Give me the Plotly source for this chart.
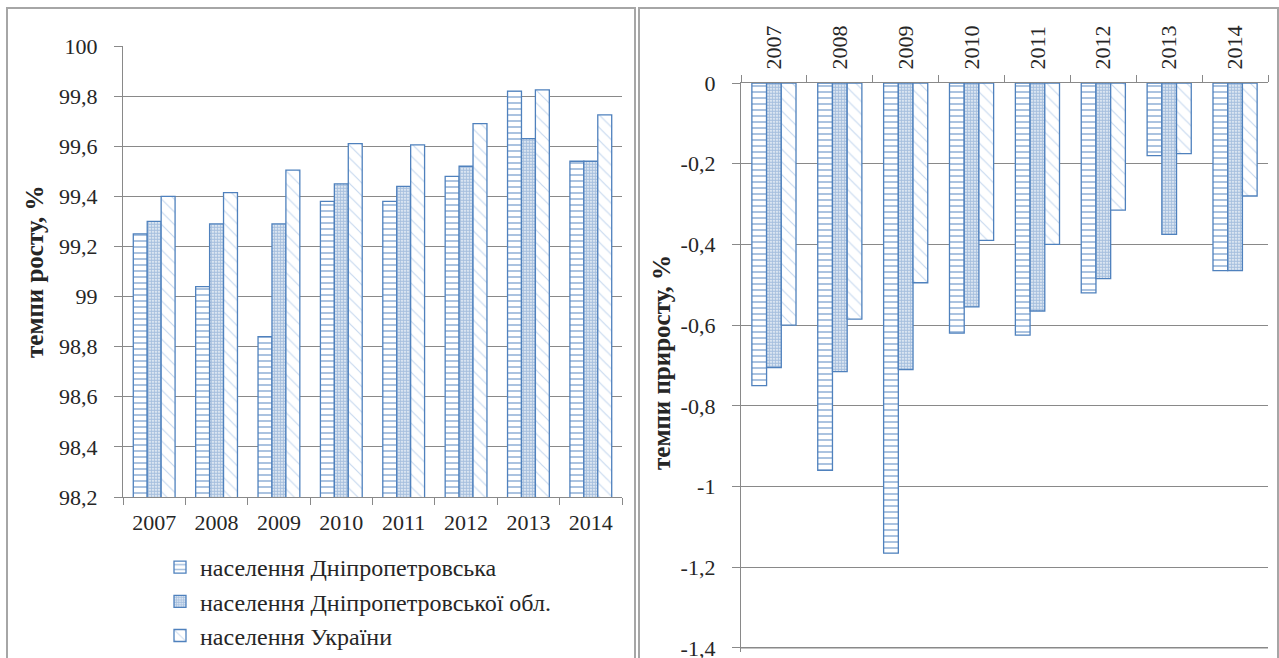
import plotly.graph_objects as go

W, H = 1279, 658

years = ["2007", "2008", "2009", "2010", "2011", "2012", "2013", "2014"]
series_names = ["населення Дніпропетровська", "населення Дніпропетровської обл.", "населення України"]

# Left chart: growth rate, %
growth_city = [99.25, 99.04, 98.84, 99.38, 99.38, 99.48, 99.82, 99.54]
growth_oblast = [99.30, 99.29, 99.29, 99.45, 99.44, 99.52, 99.63, 99.54]
growth_ukraine = [99.40, 99.415, 99.505, 99.61, 99.605, 99.69, 99.825, 99.725]

# Right chart: increase rate, %
incr_city = [-0.75, -0.96, -1.165, -0.62, -0.625, -0.52, -0.18, -0.465]
incr_oblast = [-0.705, -0.715, -0.71, -0.555, -0.565, -0.485, -0.375, -0.465]
incr_ukraine = [-0.60, -0.585, -0.495, -0.39, -0.40, -0.315, -0.175, -0.28]

left_tickvals = [98.2, 98.4, 98.6, 98.8, 99.0, 99.2, 99.4, 99.6, 99.8, 100.0]
left_ticktext = ["98,2", "98,4", "98,6", "98,8", "99", "99,2", "99,4", "99,6", "99,8", "100"]
right_tickvals = [0, -0.2, -0.4, -0.6, -0.8, -1.0, -1.2, -1.4]
right_ticktext = ["0", "-0,2", "-0,4", "-0,6", "-0,8", "-1", "-1,2", "-1,4"]

left_title = "темпи росту, %"
right_title = "темпи приросту, %"

FONT = "Liberation Serif"
BLUE = "#4f81bd"
AXIS = "#898989"
TXT = "#262626"


def px(x):
    return x / W


def py(y):
    return 1 - y / H


patterns = [
    dict(shape="-", fgcolor=BLUE, bgcolor="white", size=6, solidity=0.32),
    dict(shape=".", fgcolor=BLUE, bgcolor="white", size=3, solidity=0.75),
    dict(shape="\\", fgcolor="#8fb2de", bgcolor="white", size=9, solidity=0.13),
]

fig = go.Figure()

left_data = [growth_city, growth_oblast, growth_ukraine]
right_data = [incr_city, incr_oblast, incr_ukraine]

for i, (name, vals) in enumerate(zip(series_names, left_data)):
    fig.add_trace(go.Bar(
        x=years, y=vals, name=name,
        xaxis="x", yaxis="y",
        marker=dict(color="white", line=dict(color=BLUE, width=1.3), pattern=patterns[i]),
        legendgroup=f"g{i}", showlegend=True,
    ))

for i, (name, vals) in enumerate(zip(series_names, right_data)):
    fig.add_trace(go.Bar(
        x=years, y=vals, name=name,
        xaxis="x2", yaxis="y2",
        marker=dict(color="white", line=dict(color=BLUE, width=1.3), pattern=patterns[i]),
        legendgroup=f"g{i}", showlegend=False,
    ))

tickfont = dict(family=FONT, size=22, color=TXT)

fig.update_layout(
    width=W, height=H,
    margin=dict(l=0, r=0, t=0, b=0, autoexpand=False),
    paper_bgcolor="white", plot_bgcolor="white",
    barmode="group", bargap=0.33, bargroupgap=0,
    font=dict(family=FONT, color=TXT),
    xaxis=dict(
        domain=[px(123), px(622)], anchor="y",
        type="category", showgrid=False,
        showline=True, linecolor=AXIS, linewidth=1.3,
        ticks="outside", ticklen=7, tickcolor=AXIS, tickwidth=1.3,
        tickson="boundaries", tickfont=tickfont, ticklabelstandoff=5,
        automargin=False,
    ),
    yaxis=dict(
        domain=[py(497), py(46)], anchor="x",
        range=[98.2, 100], tickvals=left_tickvals, ticktext=left_ticktext,
        showgrid=True, gridcolor=AXIS, gridwidth=1.3,
        showline=True, linecolor=AXIS, linewidth=1.3,
        ticks="outside", ticklen=8, tickcolor=AXIS, tickwidth=1.3,
        tickfont=tickfont, zeroline=False, ticklabelstandoff=12,
        automargin=False,
    ),
    xaxis2=dict(
        domain=[px(741), px(1268)], anchor="y2", side="top",
        type="category", showgrid=False,
        showline=True, linecolor=AXIS, linewidth=1.3,
        ticks="outside", ticklen=7, tickcolor=AXIS, tickwidth=1.3,
        tickson="boundaries", tickangle=-90, tickfont=tickfont, ticklabelstandoff=8,
        automargin=False,
    ),
    yaxis2=dict(
        domain=[py(652), py(83)], anchor="x2",
        range=[-1.41, 0], tickvals=right_tickvals, ticktext=right_ticktext,
        showgrid=True, gridcolor=AXIS, gridwidth=1.3,
        showline=True, linecolor=AXIS, linewidth=1.3,
        ticks="outside", ticklen=8, tickcolor=AXIS, tickwidth=1.3,
        tickfont=tickfont, zeroline=False, ticklabelstandoff=12,
        ticklabeloverflow="allow", automargin=False,
    ),
    legend=dict(
        x=px(160), y=py(545), xanchor="left", yanchor="top",
        orientation="v", traceorder="normal",
        font=dict(family=FONT, size=24, color=TXT),
        bgcolor="rgba(0,0,0,0)", tracegroupgap=3,
        itemwidth=30,
    ),
    annotations=[
        dict(text=f"<b>{left_title}</b>", x=px(34), y=py(272), xref="paper", yref="paper",
             xanchor="center", yanchor="middle",
             textangle=-90, showarrow=False, font=dict(family=FONT, size=25, color=TXT)),
        dict(text=f"<b>{right_title}</b>", x=px(661), y=py(363), xref="paper", yref="paper",
             xanchor="center", yanchor="middle",
             textangle=-90, showarrow=False, font=dict(family=FONT, size=25, color=TXT)),
    ],
    shapes=[
        dict(type="rect", xref="paper", yref="paper", x0=px(7), x1=px(635), y0=-0.05, y1=py(8),
             line=dict(color="#a6a6a6", width=2), fillcolor="rgba(0,0,0,0)"),
        dict(type="rect", xref="paper", yref="paper", x0=px(639), x1=px(1278), y0=-0.05, y1=py(8),
             line=dict(color="#a6a6a6", width=2), fillcolor="rgba(0,0,0,0)"),
        # bottom gridline of the right chart (at the last tick value)
        dict(type="line", xref="x2 domain", yref="y2", x0=0, x1=1,
             y0=right_tickvals[-1], y1=right_tickvals[-1], layer="below",
             line=dict(color=AXIS, width=1.3)),
    ],
)

fig.write_html(
    "out.html",
    config={"displayModeBar": False},
    post_script="document.body.style.margin='0';document.body.style.overflow='hidden';",
)
